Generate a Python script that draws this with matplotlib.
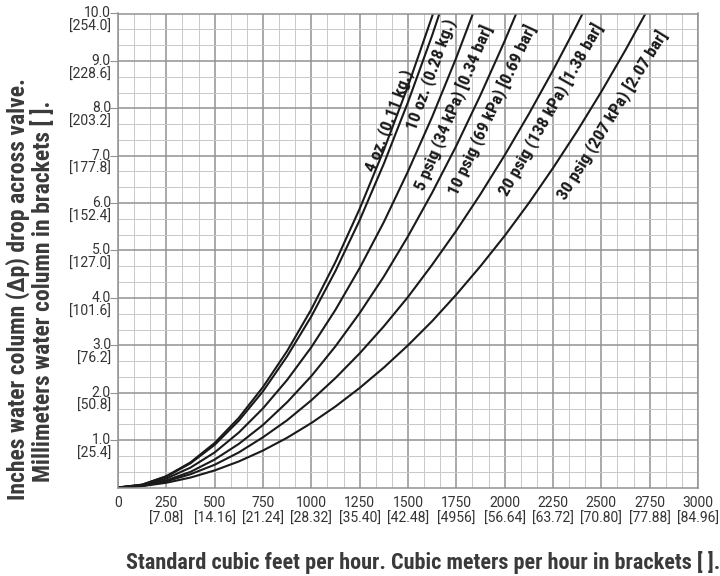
import numpy as np
import matplotlib
matplotlib.use("Agg")
import matplotlib.pyplot as plt
from matplotlib.ticker import MultipleLocator
from matplotlib import transforms

plt.rcParams['font.family'] = ['Roboto Condensed', 'DejaVu Sans']
TICKFONT = ['Roboto', 'DejaVu Sans']

x4oz = [0, 125, 250, 375, 500, 625, 750, 875, 1000, 1125, 1250, 1375, 1500, 1625, 1750]
y4oz = [0, 0.06, 0.24, 0.53, 0.94, 1.47, 2.12, 2.88, 3.76, 4.76, 5.88, 7.12, 8.47, 9.94, 11.5]

x10oz = [0, 125, 250, 375, 500, 625, 750, 875, 1000, 1125, 1250, 1375, 1500, 1625, 1750]
y10oz = [0, 0.06, 0.23, 0.51, 0.90, 1.41, 2.03, 2.77, 3.61, 4.57, 5.64, 6.83, 8.13, 9.54, 11.06]

x5psig = [0, 125, 250, 375, 500, 625, 750, 875, 1000, 1125, 1250, 1375, 1500, 1625, 1750, 1875]
y5psig = [0, 0.05, 0.19, 0.42, 0.74, 1.16, 1.67, 2.27, 2.96, 3.75, 4.63, 5.60, 6.67, 7.82, 9.07, 10.42]

x10psig = [0, 125, 250, 375, 500, 625, 750, 875, 1000, 1125, 1250, 1375, 1500, 1625, 1750, 1875, 2000, 2125]
y10psig = [0, 0.04, 0.15, 0.33, 0.59, 0.92, 1.32, 1.80, 2.35, 2.98, 3.68, 4.45, 5.30, 6.22, 7.21, 8.28, 9.42, 10.63]

x20psig = [0, 125, 250, 375, 500, 625, 750, 875, 1000, 1125, 1250, 1375, 1500, 1625, 1750, 1875, 2000,
           2125, 2250, 2375, 2500]
y20psig = [0, 0.03, 0.13, 0.28, 0.48, 0.74, 1.06, 1.42, 1.84, 2.31, 2.83, 3.40, 4.02, 4.70, 5.42, 6.19, 7.01,
           7.88, 8.80, 9.77, 10.79]

x30psig = [0, 125, 250, 375, 500, 625, 750, 875, 1000, 1125, 1250, 1375, 1500, 1625, 1750, 1875, 2000,
           2125, 2250, 2375, 2500, 2625, 2750]
y30psig = [0, 0.03, 0.10, 0.21, 0.36, 0.55, 0.78, 1.05, 1.36, 1.71, 2.10, 2.53, 3.00, 3.51, 4.07, 4.67, 5.31,
           6.00, 6.74, 7.52, 8.35, 9.23, 10.16]

curve_names = ['4 oz. (0.11 kg.)', '10 oz. (0.28 kg.)', '5 psig (34 kPa) [0.34 bar]',
               '10 psig (69 kPa) [0.69 bar]', '20 psig (138 kPa) [1.38 bar]', '30 psig (207 kPa) [2.07 bar]']
curve_x = [x4oz, x10oz, x5psig, x10psig, x20psig, x30psig]
curve_y = [y4oz, y10oz, y5psig, y10psig, y20psig, y30psig]
# label centres (data coords)
label_x = [1400, 1620, 1740, 1940, 2240, 2560]
label_y = [7.75, 8.72, 8.0, 7.96, 7.96, 7.86]

xticks = [0, 250, 500, 750, 1000, 1250, 1500, 1750, 2000, 2250, 2500, 2750, 3000]
xtick_m3 = ['', '7.08', '14.16', '21.24', '28.32', '35.40', '42.48', '4956', '56.64', '63.72',
            '70.80', '77.88', '84.96']
yticks = [1, 2, 3, 4, 5, 6, 7, 8, 9, 10]
ytick_mm = ['25.4', '50.8', '76.2', '101.6', '127.0', '152.4', '177.8', '203.2', '228.6', '254.0']

fig = plt.figure(figsize=(7.2, 5.76), dpi=100)
ax = fig.add_axes([118 / 720, 1 - 487.5 / 576, 580 / 720, 474 / 576])
ax.set_xlim(0, 3000)
ax.set_ylim(0, 10)

ax.xaxis.set_minor_locator(MultipleLocator(250 / 3))
ax.yaxis.set_minor_locator(MultipleLocator(1 / 3))
ax.grid(which='major', color='#929292', lw=1.1)
ax.grid(which='minor', color='#c8c8c8', lw=0.7)
ax.set_axisbelow(True)
for s in ax.spines.values():
    s.set_color('#929292')
    s.set_linewidth(1.1)

for xs, ys in zip(curve_x, curve_y):
    ax.plot(xs, ys, color='#1a1a1a', lw=1.5, solid_capstyle='butt')

ax.set_xticks(xticks)
ax.set_xticklabels([str(t) if m == '' else f'{t}\n[{m}]' for t, m in zip(xticks, xtick_m3)],
                   fontsize=10, family=TICKFONT, color='#333333', linespacing=1.2)
ax.set_yticks(yticks)
ax.set_yticklabels([])
ax.tick_params(which='both', length=0)
ax.tick_params(axis='x', pad=6)
ax.tick_params(axis='y', which='major', length=6, color='#929292')

ytrans = transforms.offset_copy(ax.get_yaxis_transform(), fig=fig, x=-7, y=7, units='dots')
for v, mm in zip(yticks, ytick_mm):
    ax.text(0, v, f'{v:.1f}\n[{mm}]', transform=ytrans, ha='right', va='top', family=TICKFONT,
            fontsize=10, color='#333333', linespacing=0.95, multialignment='right')

fig.canvas.draw()
for name, xs, ys, lx, ly in zip(curve_names, curve_x, curve_y, label_x, label_y):
    pts = ax.transData.transform(np.column_stack([xs, ys]))
    ang = np.degrees(np.arctan2(np.gradient(pts[:, 1]), np.gradient(pts[:, 0])))
    a = np.interp(ly, ys, ang)
    ax.text(lx, ly, name, rotation=a, rotation_mode='anchor', ha='center', va='center',
            fontsize=12.5, fontweight='bold', color='#1a1a1a')

fig.text(18 / 720, 1 - 500 / 576, 'Inches water column (\u0394p) drop across valve.', rotation=90,
         rotation_mode='anchor', ha='left', va='center', fontsize=17, fontweight='bold', color='#3a3a3a')
fig.text(43 / 720, 1 - 482 / 576, 'Millimeters water column in brackets [ ].', rotation=90,
         rotation_mode='anchor', ha='left', va='center', fontsize=17, fontweight='bold', color='#3a3a3a')
fig.text(423 / 720, 1 - 563 / 576, 'Standard cubic feet per hour. Cubic meters per hour in brackets [ ].',
         ha='center', va='center', fontsize=16, fontweight='bold', color='#3a3a3a')

fig.savefig('out.png', dpi=100, facecolor='white')
